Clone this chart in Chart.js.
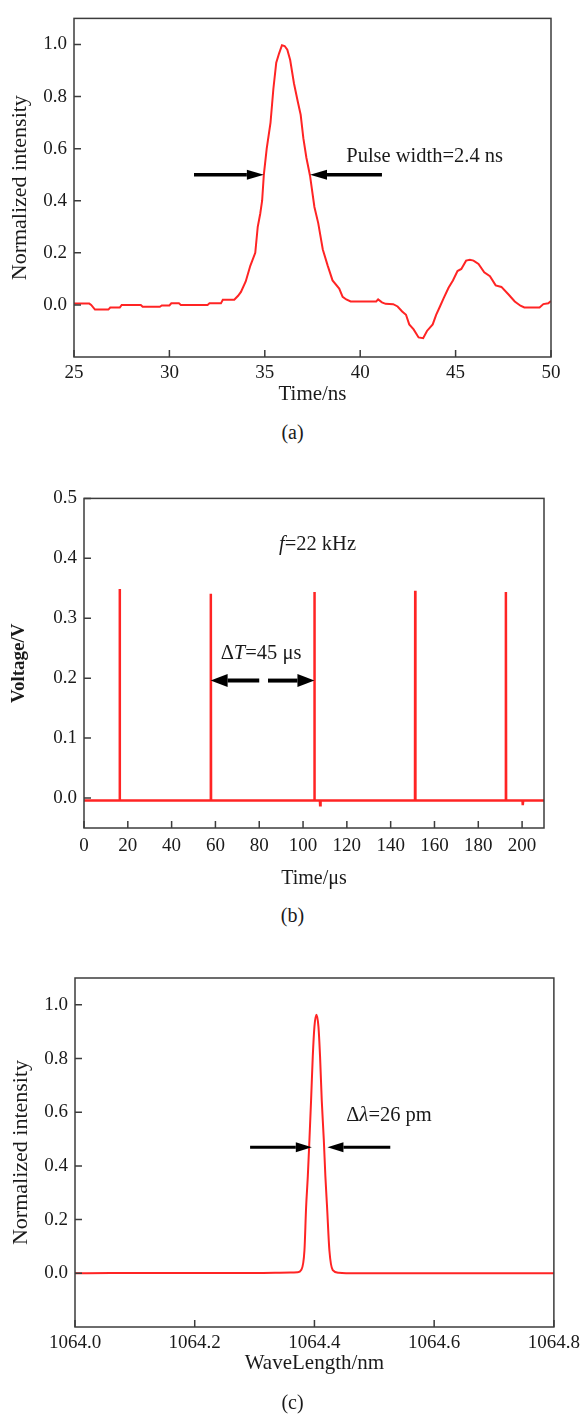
<!DOCTYPE html>
<html>
<head>
<meta charset="utf-8">
<script src="https://cdn.jsdelivr.net/npm/chart.js@4.4.0/dist/chart.umd.min.js"></script>
<style>
body { margin: 0; background: #fff; width: 585px; height: 1415px; position: relative; overflow: hidden; }
.box { position: absolute; left: 0; width: 585px; }
.cap { position: absolute; left: 0; width: 585px; text-align: center; font: 20px "Liberation Serif", serif; line-height: 20px; color: #1a1a1a; }
</style>
</head>
<body>
<div class="box" style="top:0"><canvas id="chA" width="585" height="420"></canvas></div>
<div class="cap" style="top:422px">(a)</div>
<div class="box" style="top:480px"><canvas id="chB" width="585" height="420"></canvas></div>
<div class="cap" style="top:905px">(b)</div>
<div class="box" style="top:950px"><canvas id="chC" width="585" height="465"></canvas></div>
<div class="cap" style="top:1392px">(c)</div>
<script>
// (a) pulse shape
const aTime = [25, 25.8, 25.9, 26.1, 26.8, 26.9, 27.4, 27.5, 28.5, 28.6, 29.5, 29.6, 30.0, 30.1, 30.5, 30.6, 32.0, 32.1, 32.7, 32.8, 33.4, 33.6, 33.75, 34.0, 34.24, 34.5, 34.63, 34.76, 34.86, 34.95, 35.1, 35.3, 35.45, 35.6, 35.75, 35.9, 36.04, 36.18, 36.33, 36.53, 36.73, 36.88, 37.02, 37.18, 37.37, 37.6, 37.8, 38.04, 38.3, 38.55, 38.9, 39.08, 39.27, 39.5, 40.84, 40.94, 41.14, 41.33, 41.73, 41.96, 42.2, 42.4, 42.57, 42.8, 43.06, 43.3, 43.5, 43.8, 43.98, 44.18, 44.37, 44.63, 44.86, 45.1, 45.3, 45.55, 45.75, 45.94, 46.2, 46.5, 46.8, 47.1, 47.4, 47.8, 48.1, 48.4, 48.6, 49.4, 49.6, 49.86, 50];
const aIntensity = [0.005, 0.005, 0.0, -0.018, -0.018, -0.01, -0.01, 0.0, 0.0, -0.007, -0.007, -0.002, -0.002, 0.006, 0.006, 0.0, 0.0, 0.006, 0.006, 0.02, 0.02, 0.035, 0.05, 0.09, 0.15, 0.2, 0.3, 0.35, 0.4, 0.5, 0.6, 0.7, 0.83, 0.93, 0.966, 0.997, 0.994, 0.98, 0.94, 0.85, 0.78, 0.73, 0.64, 0.565, 0.496, 0.376, 0.314, 0.213, 0.15, 0.094, 0.063, 0.031, 0.021, 0.013, 0.013, 0.021, 0.01, 0.004, 0.003, -0.006, -0.025, -0.038, -0.075, -0.094, -0.125, -0.128, -0.1, -0.075, -0.038, -0.006, 0.025, 0.066, 0.094, 0.13, 0.138, 0.17, 0.173, 0.17, 0.157, 0.125, 0.11, 0.075, 0.069, 0.038, 0.013, -0.003, -0.01, -0.01, 0.003, 0.006, 0.015];
const aXTicks = [25, 30, 35, 40, 45, 50];
const aYTicks = [0, 0.2, 0.4, 0.6, 0.8, 1.0];
const aArrows = [[31.29, 34.95, 0.5], [41.14, 37.37, 0.5]]; // tail x, head x, y
const aNotes = [[39.27, 0.571, [['Pulse width=2.4 ns', false]]]];

// (b) pulse train
const bTime = [0, 16.2, 16.3, 16.4, 57.8, 57.9, 58.0, 105.1, 105.2, 105.3, 107.7, 107.8, 108.0, 151.1, 151.2, 151.3, 192.5, 192.6, 192.7, 200.2, 200.3, 200.5, 210];
const bVoltage = [-0.004, -0.004, 0.349, -0.004, -0.004, 0.341, -0.004, -0.004, 0.344, -0.004, -0.004, -0.012, -0.004, -0.004, 0.346, -0.004, -0.004, 0.344, -0.004, -0.004, -0.012, -0.004, -0.004];
const bXTicks = [0, 20, 40, 60, 80, 100, 120, 140, 160, 180, 200];
const bYTicks = [0, 0.1, 0.2, 0.3, 0.4, 0.5];
const bArrows = [[80, 57.8, 0.196], [84, 105.2, 0.196]];
const bNotes = [
    [89.0, 0.423, [['f', true], ['=22 kHz', false]]],
    [62.4, 0.241, [['\u0394', false], ['T', true], ['=45 \u03bcs', false]]]
];

// (c) spectrum
const cWave = [1064.0, 1064.06, 1064.3, 1064.36, 1064.372, 1064.3778, 1064.3833, 1064.3861, 1064.3889, 1064.3917, 1064.3944, 1064.3972, 1064.4, 1064.4033, 1064.4067, 1064.4094, 1064.4122, 1064.4156, 1064.4183, 1064.4211, 1064.425, 1064.4306, 1064.4406, 1064.47, 1064.8];
const cIntensity = [0.0, 0.001, 0.001, 0.003, 0.004, 0.012, 0.085, 0.247, 0.36, 0.5, 0.645, 0.807, 0.919, 0.963, 0.919, 0.807, 0.645, 0.5, 0.36, 0.247, 0.085, 0.012, 0.002, 0.0, 0.0];
const cXTicks = [1064.0, 1064.2, 1064.4, 1064.6, 1064.8];
const cYTicks = [0, 0.2, 0.4, 0.6, 0.8, 1.0];
const cArrows = [[1064.2925, 1064.3956, 0.47], [1064.5267, 1064.4217, 0.47]];
const cNotes = [[1064.4533, 0.589, [['\u0394', false], ['\u03bb', true], ['=26 pm', false]]]];

const SERIF = '"Liberation Serif", "Times New Roman", serif';
const TXT = '#1a1a1a';
const RED = 'rgb(255,36,36)';

Chart.defaults.font.family = SERIF;
Chart.defaults.color = TXT;

const framePlugin = {
    id: 'frame',
    afterDatasetsDraw(chart, args, opts) {
        const ctx = chart.ctx;
        const a = chart.chartArea;
        const x = chart.scales.x, y = chart.scales.y;
        ctx.save();
        ctx.strokeStyle = '#3c3c3c';
        ctx.lineWidth = 1.5;
        ctx.strokeRect(a.left, a.top, a.right - a.left, a.bottom - a.top);
        ctx.beginPath();
        x.ticks.forEach(t => {
            const px = x.getPixelForValue(t.value);
            ctx.moveTo(px, a.bottom);
            ctx.lineTo(px, a.bottom - 7);
        });
        y.ticks.forEach(t => {
            const py = y.getPixelForValue(t.value);
            ctx.moveTo(a.left, py);
            ctx.lineTo(a.left + 7, py);
        });
        ctx.stroke();

        // arrows
        ctx.strokeStyle = '#000';
        ctx.fillStyle = '#000';
        (opts.arrows || []).forEach(ar => {
            const x0 = x.getPixelForValue(ar[0]);
            const x1 = x.getPixelForValue(ar[1]);
            const py = y.getPixelForValue(ar[2]);
            const dir = x1 > x0 ? 1 : -1;
            const L = opts.headLen || 16, w = opts.headHalf || 5;
            ctx.lineWidth = opts.shaft || 3.5;
            ctx.beginPath();
            ctx.moveTo(x0, py);
            ctx.lineTo(x1 - dir * L, py);
            ctx.stroke();
            ctx.beginPath();
            ctx.moveTo(x1, py);
            ctx.lineTo(x1 - dir * L, py - w);
            ctx.lineTo(x1 - dir * L, py + w);
            ctx.closePath();
            ctx.fill();
        });

        // notes
        ctx.fillStyle = TXT;
        ctx.textBaseline = 'middle';
        ctx.textAlign = 'left';
        (opts.notes || []).forEach(n => {
            let cx = x.getPixelForValue(n[0]);
            const cy = y.getPixelForValue(n[1]);
            n[2].forEach(p => {
                ctx.font = (p[1] ? 'italic ' : '') + (opts.noteSize || 20.5) + 'px ' + SERIF;
                ctx.fillText(p[0], cx, cy);
                cx += ctx.measureText(p[0]).width;
            });
        });
        ctx.restore();
    }
};

function makeChart(id, xs, ys, cfg) {
    const pts = xs.map((v, i) => ({ x: v, y: ys[i] }));
    return new Chart(document.getElementById(id), {
        type: 'line',
        data: {
            datasets: [{
                data: pts,
                borderColor: RED,
                borderWidth: cfg.lineWidth,
                pointRadius: 0,
                tension: cfg.smooth ? 0.4 : 0,
                cubicInterpolationMode: cfg.smooth ? 'monotone' : 'default'
            }]
        },
        options: {
            responsive: false,
            animation: false,
            devicePixelRatio: 1,
            layout: { padding: { top: cfg.padTop, right: cfg.padRight, left: 0, bottom: 0 } },
            plugins: {
                legend: { display: false },
                tooltip: { enabled: false },
                frame: { arrows: cfg.arrows, notes: cfg.notes, headLen: cfg.headLen, headHalf: cfg.headHalf, shaft: cfg.shaft }
            },
            scales: {
                x: {
                    type: 'linear',
                    min: cfg.xMin, max: cfg.xMax,
                    grid: { display: false, drawTicks: false },
                    border: { display: false },
                    afterBuildTicks: s => { s.ticks = cfg.xTicks.map(v => ({ value: v })); },
                    afterFit: s => { s.height = cfg.xHeight; },
                    ticks: {
                        padding: cfg.xTickPad,
                        maxRotation: 0,
                        autoSkip: false,
                        font: { size: 19 },
                        color: TXT,
                        callback: v => v.toFixed(cfg.xDec)
                    },
                    title: {
                        display: true,
                        text: cfg.xTitle,
                        font: { size: cfg.xTitleSize },
                        color: TXT,
                        padding: { top: 0, bottom: cfg.xTitlePad }
                    }
                },
                y: {
                    type: 'linear',
                    min: cfg.yMin, max: cfg.yMax,
                    grid: { display: false, drawTicks: false },
                    border: { display: false },
                    afterBuildTicks: s => { s.ticks = cfg.yTicks.map(v => ({ value: v })); },
                    afterFit: s => { s.width = cfg.yWidth; },
                    ticks: {
                        padding: 7,
                        font: { size: 19 },
                        color: TXT,
                        callback: v => v.toFixed(1)
                    },
                    title: {
                        display: true,
                        text: cfg.yTitle,
                        font: { size: cfg.yTitleSize, weight: cfg.yTitleBold ? 'bold' : 'normal' },
                        color: TXT,
                        padding: { top: cfg.yTitlePad, bottom: 0 }
                    }
                }
            }
        },
        plugins: [framePlugin]
    });
}

makeChart('chA', aTime, aIntensity, {
    lineWidth: 2, smooth: false,
    padTop: 11, padRight: 34, xHeight: 63, yWidth: 74,
    xMin: 25, xMax: 50, yMin: -0.2, yMax: 1.1,
    xTicks: aXTicks, yTicks: aYTicks, xDec: 0, xTickPad: 5,
    xTitle: 'Time/ns', xTitleSize: 21, xTitlePad: 13,
    yTitle: 'Normalized intensity', yTitleSize: 22, yTitlePad: 7,
    arrows: aArrows, notes: aNotes, headLen: 17, headHalf: 5, shaft: 3.5
});

makeChart('chB', bTime, bVoltage, {
    lineWidth: 2.5, smooth: false,
    padTop: 14, padRight: 41, xHeight: 72, yWidth: 84,
    xMin: 0, xMax: 210, yMin: -0.05, yMax: 0.5,
    xTicks: bXTicks, yTicks: bYTicks, xDec: 0, xTickPad: 7,
    xTitle: 'Time/\u03bcs', xTitleSize: 20, xTitlePad: 9,
    yTitle: 'Voltage/V', yTitleSize: 19, yTitleBold: true, yTitlePad: 8,
    arrows: bArrows, notes: bNotes, headLen: 17, headHalf: 6.5, shaft: 4
});

makeChart('chC', cWave, cIntensity, {
    lineWidth: 2, smooth: true,
    padTop: 28, padRight: 30, xHeight: 88, yWidth: 75,
    xMin: 1064.0, xMax: 1064.8, yMin: -0.2, yMax: 1.1,
    xTicks: cXTicks, yTicks: cYTicks, xDec: 1, xTickPad: 5,
    xTitle: 'WaveLength/nm', xTitleSize: 21, xTitlePad: 39,
    yTitle: 'Normalized intensity', yTitleSize: 22, yTitlePad: 8,
    arrows: cArrows, notes: cNotes, headLen: 16, headHalf: 5, shaft: 3
});
</script>
</body>
</html>
